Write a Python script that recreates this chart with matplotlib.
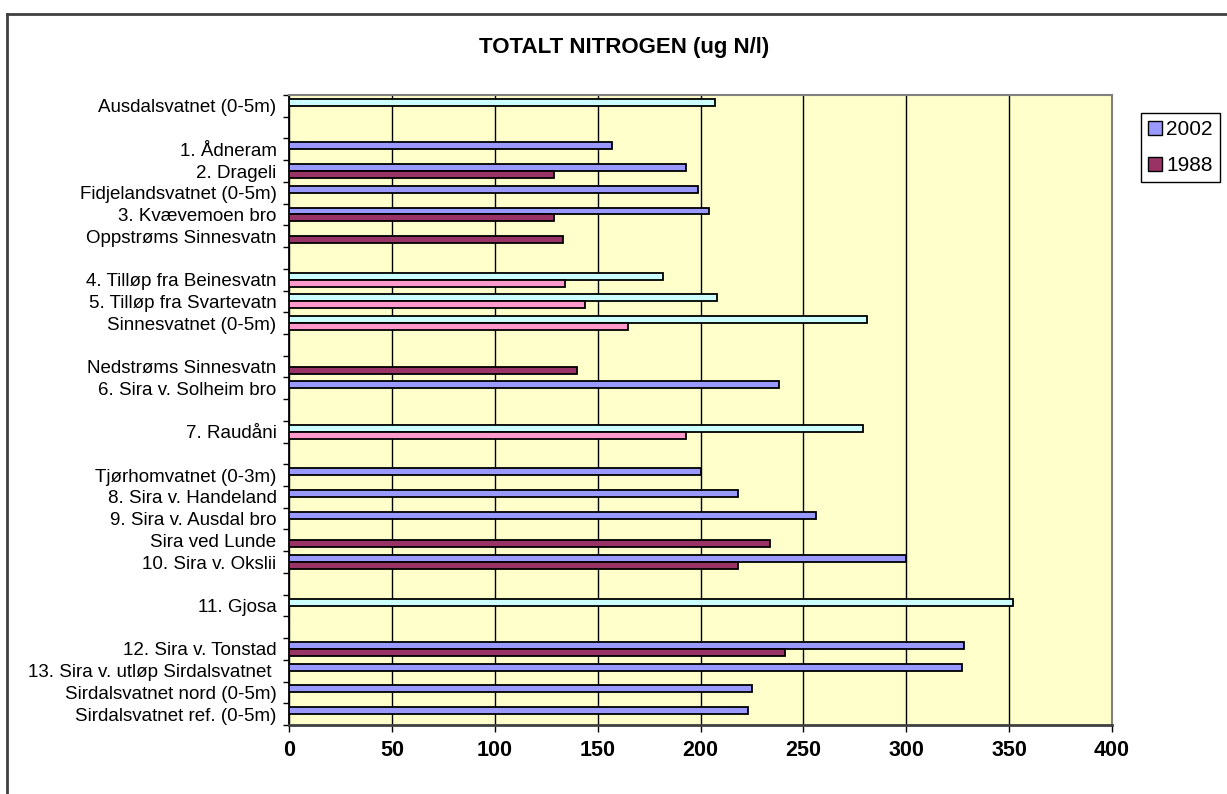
import numpy as np
import matplotlib
matplotlib.use("Agg")
import matplotlib.pyplot as plt
from matplotlib.patches import Patch
from matplotlib.lines import Line2D
from matplotlib.ticker import FixedLocator

plt.rcParams['font.family'] = ['Liberation Sans', 'DejaVu Sans']

# stations, top to bottom; empty strings are spacer rows
stations = [
    "Ausdalsvatnet (0-5m)", "",
    "1. Ådneram", "2. Drageli", "Fidjelandsvatnet (0-5m)", "3. Kvævemoen bro",
    "Oppstrøms Sinnesvatn", "",
    "4. Tilløp fra Beinesvatn", "5. Tilløp fra Svartevatn", "Sinnesvatnet (0-5m)", "",
    "Nedstrøms Sinnesvatn", "6. Sira v. Solheim bro", "",
    "7. Raudåni", "",
    "Tjørhomvatnet (0-3m)", "8. Sira v. Handeland", "9. Sira v. Ausdal bro",
    "Sira ved Lunde", "10. Sira v. Okslii", "",
    "11. Gjosa", "",
    "12. Sira v. Tonstad", "13. Sira v. utløp Sirdalsvatnet ",
    "Sirdalsvatnet nord (0-5m)", "Sirdalsvatnet ref. (0-5m)",
]
nan = np.nan
tn_2002 = [207, nan, 157, 193, 199, 204, nan, nan, 182, 208, 281, nan,
           nan, 238, nan, 279, nan, 200, 218, 256, nan, 300, nan, 352, nan,
           328, 327, 225, 223]
tn_1988 = [nan, nan, nan, 129, nan, 129, 133, nan, 134, 144, 165, nan,
           140, nan, nan, 193, nan, nan, nan, nan, 234, 218, nan, nan, nan,
           241, nan, nan, nan]
series_names = ["2002", "1988"]
x_ticks = [0, 50, 100, 150, 200, 250, 300, 350, 400]

# rows drawn in the pale variant of each series colour
pale_rows = [0, 8, 9, 10, 15, 23]

col_2002, pale_2002 = "#9999FF", "#CCFFFF"
col_1988, pale_1988 = "#993366", "#FF99CC"

W, H = 1227, 794
fig = plt.figure(figsize=(W / 100, H / 100), dpi=100)
ax = fig.add_axes([289 / W, 1 - 725 / H, (1112 - 289) / W, (725 - 95) / H])
ax.set_facecolor("#FFFFCC")

n = len(stations)
y = np.arange(n)
bh = 0.32
c02 = [pale_2002 if i in pale_rows else col_2002 for i in range(n)]
c88 = [pale_1988 if i in pale_rows else col_1988 for i in range(n)]
v02 = np.array(tn_2002, dtype=float)
v88 = np.array(tn_1988, dtype=float)
m02 = ~np.isnan(v02)
m88 = ~np.isnan(v88)
ax.barh(y[m02] - bh / 2, v02[m02], height=bh, color=np.array(c02)[m02],
        edgecolor="black", linewidth=1.3, zorder=3)
ax.barh(y[m88] + bh / 2, v88[m88], height=bh, color=np.array(c88)[m88],
        edgecolor="black", linewidth=1.3, zorder=3)

ax.set_xlim(0, 400)
ax.set_ylim(n - 0.5, -0.5)
ax.xaxis.set_major_locator(FixedLocator(x_ticks))
ax.grid(axis="x", color="black", linewidth=1.0, zorder=1)

ax.set_yticks(y)
ax.set_yticklabels(stations, fontsize=13.5)
ax.yaxis.set_minor_locator(FixedLocator(np.arange(n + 1) - 0.5))
ax.tick_params(axis="y", which="major", length=0, pad=9)
ax.tick_params(axis="y", which="minor", length=4, width=1, direction="out")
ax.tick_params(axis="x", which="major", length=5, width=1, direction="out",
               pad=6, labelsize=15.5)
for lbl in ax.get_xticklabels():
    lbl.set_fontweight("bold")

ax.spines["left"].set_color("black")
ax.spines["left"].set_linewidth(1.3)
ax.spines["bottom"].set_color("#404040")
ax.spines["bottom"].set_linewidth(2)
ax.spines["top"].set_color("#808080")
ax.spines["top"].set_linewidth(1.5)
ax.spines["right"].set_color("#808080")
ax.spines["right"].set_linewidth(1.5)

fig.text(624 / W, 1 - 48 / H, "TOTALT NITROGEN (ug N/l)", fontsize=16,
         fontweight="bold", ha="center", va="center")

handles = [Patch(facecolor=col_2002, edgecolor="black", linewidth=1),
           Patch(facecolor=col_1988, edgecolor="black", linewidth=1)]
leg = fig.legend(handles, series_names, loc="upper left",
                 bbox_to_anchor=(1141 / W, 1 - 113 / H), fontsize=15,
                 frameon=True, fancybox=False, framealpha=1,
                 edgecolor="black", handlelength=0.65, handleheight=0.65,
                 handletextpad=0.2, labelspacing=0.8, borderpad=0.35,
                 borderaxespad=0)
leg.get_frame().set_linewidth(1)

# chart area outline (left and top edges)
fig.add_artist(Line2D([7 / W, 7 / W], [0, 1 - 14 / H], color="#404040",
                      linewidth=2, transform=fig.transFigure))
fig.add_artist(Line2D([7 / W, 1], [1 - 14 / H, 1 - 14 / H], color="#404040",
                      linewidth=2, transform=fig.transFigure))

fig.savefig("out.png", dpi=100)
